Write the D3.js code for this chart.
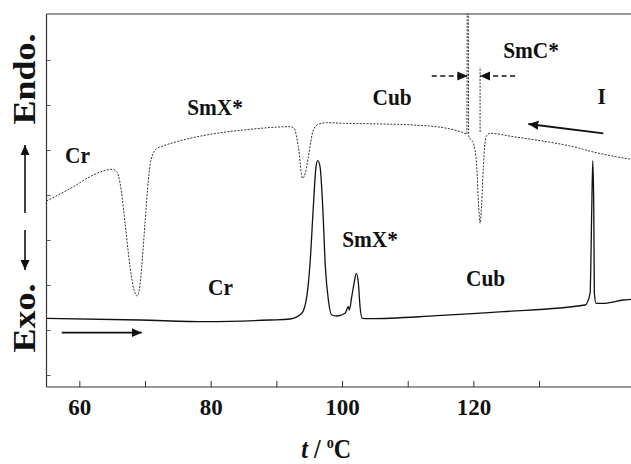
<!DOCTYPE html>
<html>
<head>
<meta charset="utf-8">
<script src="https://cdn.jsdelivr.net/npm/d3@7"></script>
<style>
  body { margin: 0; background: #fff; }
  text { font-family: "Liberation Serif", "Times New Roman", serif; font-weight: bold; fill: #111; }
</style>
</head>
<body>
<div id="chart"></div>
<script>
// DSC traces: temperature (deg C) and signal (arbitrary units, endo up)
const coolT = [55, 57.06, 59.09, 61.63, 64.17, 65.06, 65.7, 66.2, 66.96, 67.72, 68.33, 68.79, 69.24, 69.5, 70.0, 70.51, 70.92, 71.79, 72.29, 75.79, 80.92, 86.0, 92.09, 92.69, 93.35, 93.99, 94.45, 94.87, 95.63, 96.39, 97.67, 100.2, 106.29, 110.86, 115.95, 118.73, 119.01, 119.07, 119.22, 119.28, 120.0, 120.51, 120.79, 121.02, 121.25, 121.52, 121.93, 122.54, 126.09, 131.17, 135.22, 138.27, 144.0];
const coolV = [186, 193, 200.3, 210.3, 217, 217.7, 215.3, 204, 164, 120.3, 97, 91, 102, 120.3, 164, 207, 227, 238.7, 240, 247, 253.7, 257.7, 260.3, 258.7, 240.3, 208.7, 215, 230.3, 257, 262.7, 264.3, 263.7, 263, 262, 258.7, 253.7, 253, 373, 373, 251, 243.7, 220.3, 182, 163.7, 182, 220.3, 250.3, 253.7, 250.3, 245.3, 240.3, 235, 227.7];

const heatT = [55, 69.24, 79.4, 89.04, 92.09, 93.87, 94.63, 95.13, 95.63, 96.04, 96.3, 96.65, 97.06, 97.46, 97.92, 98.43, 99.2, 100.46, 100.96, 101.11, 101.48, 101.83, 102.18, 102.49, 102.74, 103.09, 104.27, 114.42, 124.56, 137.0, 137.77, 138.03, 138.18, 138.33, 138.42, 138.68, 139.79, 142.84, 144.0];
const heatV = [68.7, 67, 65.3, 67, 68, 73.7, 90.3, 123.7, 180.3, 220.3, 226.3, 220.3, 180.3, 120.3, 87, 72, 71, 73.7, 80.3, 77, 90.3, 103.7, 113.7, 103.7, 80.3, 68.7, 68.3, 71.3, 75.3, 82, 93.7, 180.3, 226.3, 180.3, 93.7, 83.7, 83.7, 87, 87.7];

const xTicks = [60, 70, 80, 90, 100, 110, 120, 130];
const xTickLabels = ["60", "", "80", "", "100", "", "120", ""];
const yTicks = [12, 57, 102, 147, 192, 237, 282, 327];

// phase labels: [text, T, v]
const phaseLabels = [
  ["Cr", 59.73, 224], ["SmX*", 80.66, 272], ["Cub", 107.62, 282], ["SmC*", 128.78, 329], ["I", 139.52, 283],
  ["Cr", 81.5, 92], ["SmX*", 104.27, 140], ["Cub", 121.86, 101]
];
// direction arrows: [T0, v0, T1, v1, dashed]
const arrows = [
  [57.32, 54.3, 69.5, 54.3, false],
  [139.79, 253.7, 128.37, 263, false],
  [113.66, 311, 119.08, 311, true],
  [126.35, 311, 121.02, 311, true]
];
const smcMarker = [121.02, 255, 320];

const width = 631, height = 464;
const margin = { top: 14, right: 0, bottom: 77, left: 46 };

const svg = d3.select("#chart").append("svg")
  .attr("width", width)
  .attr("height", height);

const x = d3.scaleLinear().domain([55, 144]).range([margin.left + 0.5, width]);
const y = d3.scaleLinear().domain([0, 373]).range([height - margin.bottom, margin.top]);

svg.append("defs").append("marker")
  .attr("id", "head")
  .attr("viewBox", "0 0 10 10")
  .attr("refX", 10).attr("refY", 5)
  .attr("markerWidth", 10).attr("markerHeight", 10)
  .attr("markerUnits", "userSpaceOnUse")
  .attr("orient", "auto")
  .append("path").attr("d", "M0,0.5L10,5L0,9.5Z").attr("fill", "#111");

// frame
const frame = svg.append("g").attr("stroke", "#333").attr("stroke-width", 1.2);
frame.append("line").attr("x1", x(55)).attr("x2", x(55)).attr("y1", y(373)).attr("y2", y(0));
frame.append("line").attr("x1", x(55)).attr("x2", x(144)).attr("y1", y(0)).attr("y2", y(0));
frame.append("line").attr("x1", x(55)).attr("x2", x(144)).attr("y1", y(373)).attr("y2", y(373));

// x axis: inward ticks
const xAxis = d3.axisBottom(x).tickValues(xTicks).tickSize(-6).tickPadding(12)
  .tickFormat((d, i) => xTickLabels[i]);
const gx = svg.append("g").attr("transform", `translate(0,${y(0)})`).call(xAxis);
gx.select(".domain").remove();
gx.selectAll(".tick line").attr("stroke", "#333");
gx.selectAll(".tick text").attr("font-size", 23).attr("font-family", null).attr("fill", "#111");

const yAxis = d3.axisLeft(y).tickValues(yTicks).tickSize(-4).tickFormat("");
const gy = svg.append("g").attr("transform", `translate(${x(55)},0)`).call(yAxis);
gy.select(".domain").remove();
gy.selectAll(".tick line").attr("stroke", "#555");

// traces
const line = d3.line().x(d => x(d[0])).y(d => y(d[1])).curve(d3.curveMonotoneX);

svg.append("path")
  .datum(d3.zip(coolT, coolV))
  .attr("fill", "none")
  .attr("stroke", "#333")
  .attr("stroke-width", 1)
  .attr("stroke-dasharray", "2,1.4")
  .attr("d", line);

svg.append("path")
  .datum(d3.zip(heatT, heatV))
  .attr("fill", "none")
  .attr("stroke", "#111")
  .attr("stroke-width", 1.3)
  .attr("d", line);

// SmC* marker line
svg.append("line")
  .attr("x1", x(smcMarker[0])).attr("x2", x(smcMarker[0]))
  .attr("y1", y(smcMarker[1])).attr("y2", y(smcMarker[2]))
  .attr("stroke", "#333").attr("stroke-width", 1).attr("stroke-dasharray", "2,1.4");

// arrows
svg.append("g").selectAll("line")
  .data(arrows)
  .enter().append("line")
  .attr("x1", d => x(d[0])).attr("y1", d => y(d[1]))
  .attr("x2", d => x(d[2])).attr("y2", d => y(d[3]))
  .attr("stroke", "#111")
  .attr("stroke-width", d => d[4] ? 1.3 : 1.8)
  .attr("stroke-dasharray", d => d[4] ? "5,3.5" : null)
  .attr("marker-end", "url(#head)");

// phase labels
svg.append("g").selectAll("text")
  .data(phaseLabels)
  .enter().append("text")
  .attr("transform", d => `translate(${x(d[1])},${y(d[2])}) scale(0.89,1)`)
  .attr("text-anchor", "middle")
  .attr("font-size", 24)
  .text(d => d[0]);

// y axis title: Endo. <-> Exo.
svg.append("text")
  .attr("transform", "translate(35,79) rotate(-90) scale(1,0.89)")
  .attr("text-anchor", "middle").attr("font-size", 36).text("Endo.");
svg.append("text")
  .attr("transform", "translate(35,318) rotate(-90) scale(1,0.89)")
  .attr("text-anchor", "middle").attr("font-size", 36).text("Exo.");
const yArrows = svg.append("g").attr("stroke", "#111").attr("stroke-width", 1.6);
yArrows.append("line").attr("x1", 25).attr("x2", 25).attr("y1", 213).attr("y2", 145).attr("marker-end", "url(#head)");
yArrows.append("line").attr("x1", 25).attr("x2", 25).attr("y1", 230).attr("y2", 270).attr("marker-end", "url(#head)");

// x axis title
const xt = svg.append("text")
  .attr("transform", `translate(${x(97.6)},458) scale(0.89,1)`)
  .attr("text-anchor", "middle")
  .attr("font-size", 27);
xt.append("tspan").attr("font-style", "italic").text("t");
xt.append("tspan").text(" / ");
xt.append("tspan").attr("font-size", 16).attr("dy", -10).text("o");
xt.append("tspan").attr("dy", 10).text("C");
</script>
</body>
</html>
